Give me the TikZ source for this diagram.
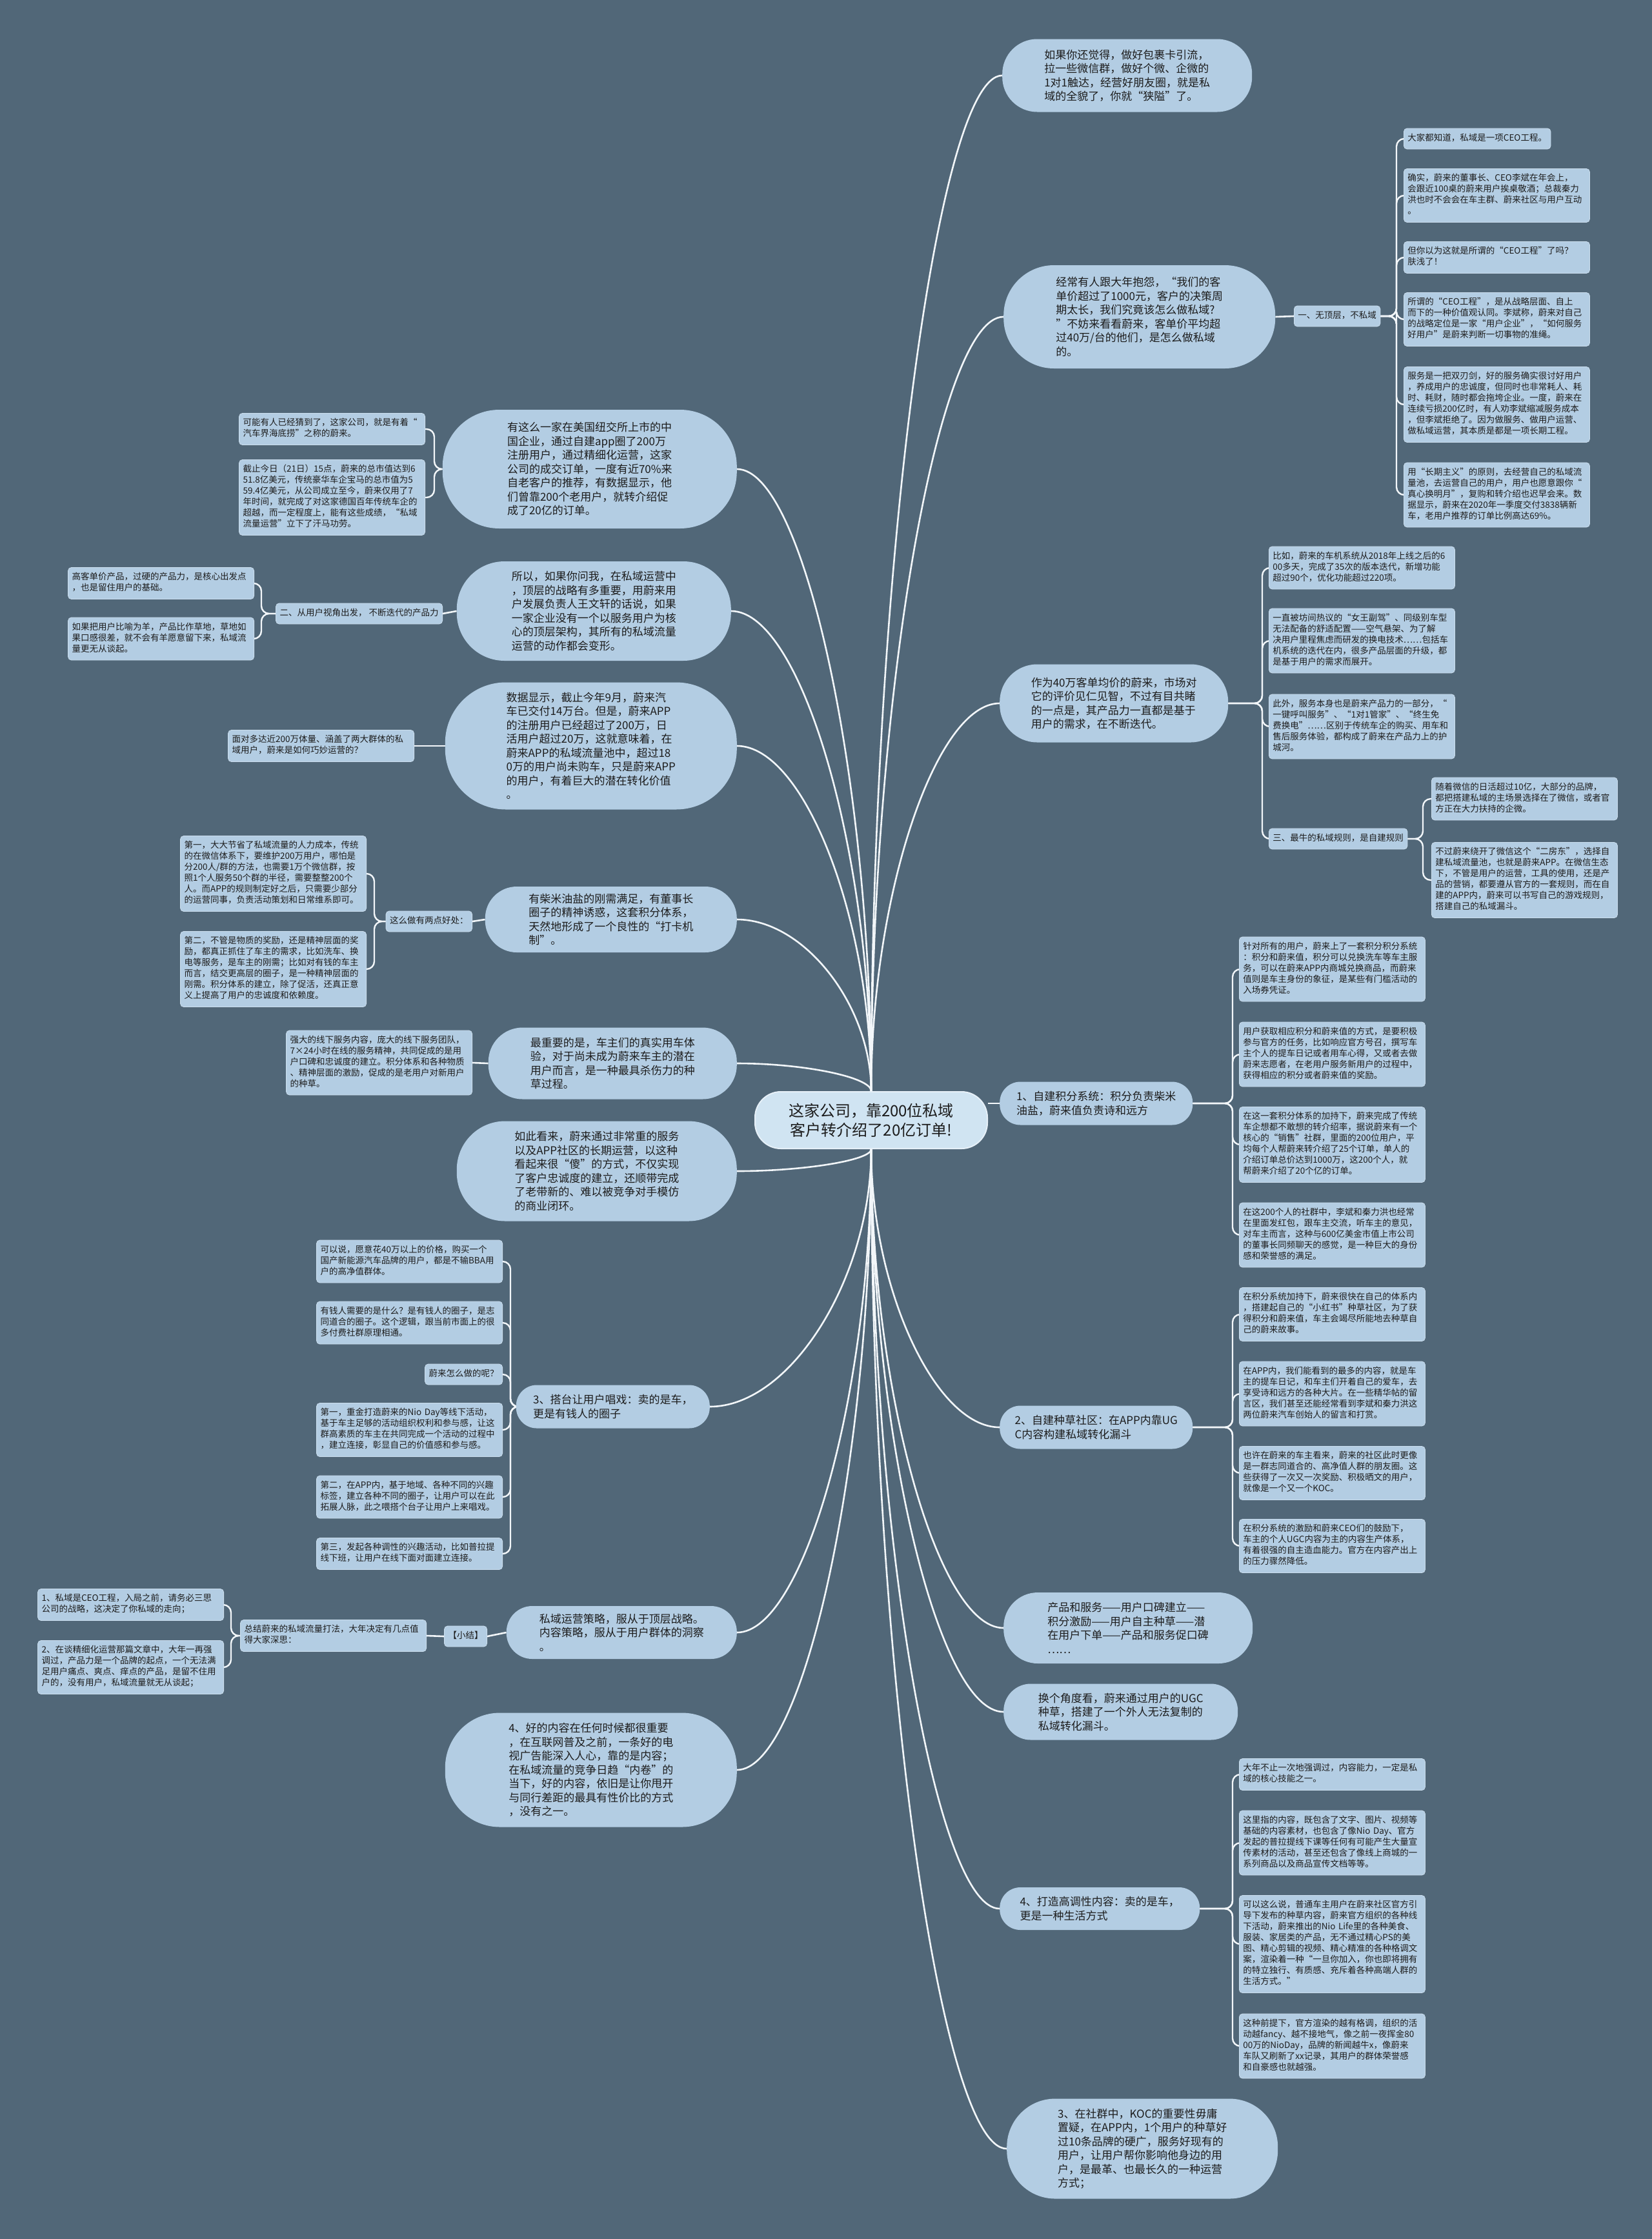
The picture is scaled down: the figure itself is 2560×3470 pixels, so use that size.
\documentclass[tikz,border=0pt]{standalone}
\usepackage{fontspec}
\setmainfont{Noto Sans CJK SC}
\usetikzlibrary{calc,backgrounds}
\definecolor{bgc}{HTML}{516778}
\definecolor{bubc}{HTML}{B3CDE3}
\definecolor{boxc}{HTML}{B3CDE3}
\definecolor{boxd}{HTML}{CADDED}
\definecolor{cenc}{HTML}{D0E4F2}
\definecolor{cend}{HTML}{E6F0F8}
\definecolor{linec}{HTML}{F2F6F9}
\definecolor{txt}{HTML}{1C1C1C}
\tikzset{
  conn/.style={draw=linec, line width=2.6bp},
  brk/.style={draw=linec, line width=2.4bp, rounded corners=12bp},
  bubble/.style={fill=bubc, text=txt, align=left, inner sep=0pt,
    font=\fontsize{17bp}{21.5bp}\selectfont},
  boxbase/.style={fill=boxc, draw=boxd, line width=0.8bp, rounded corners=5bp,
    text=txt, align=left, inner xsep=6bp, inner ysep=7.5bp,
    font=\fontsize{13.5bp}{17bp}\selectfont,
    execute at begin node=\strut, execute at end node=\strut},
  sbox/.style={boxbase, text width=276bp},
  tbox/.style={boxbase},
  centre/.style={fill=cenc, draw=cend, line width=2bp, rounded corners=40bp,
    minimum width=360bp, minimum height=88bp, align=center, text=txt,
    font=\fontsize{24bp}{30bp}\selectfont}
}
\newcommand\cur[2]{\draw[conn] (#1) .. controls ($(#1)!0.5!(#1|-#2)$) and ($(#2)!0.5!(#2-|#1)$) .. (#2);}
\begin{document}
\begin{tikzpicture}[x=1bp,y=-1bp]
\useasboundingbox (0,0) rectangle (2560,3470);

% centre
\node[centre] (C) at (1350,1736) {这家公司，靠200位私域\\客户转介绍了20亿订单!};

% ---------------- right bubbles
\node[bubble, anchor=west, minimum width=387bp, minimum height=113bp, rounded corners=54bp] (R1) at (1553,117)
 {如果你还觉得，做好包裹卡引流，\\拉一些微信群，做好个微、企微的\\1对1触达，经营好朋友圈，就是私\\域的全貌了，你就“狭隘”了。};
\node[bubble, anchor=west, minimum width=421bp, minimum height=160bp, rounded corners=78bp] (R2) at (1555,491)
 {经常有人跟大年抱怨，“我们的客\\单价超过了1000元，客户的决策周\\期太长，我们究竟该怎么做私域?\\”不妨来看看蔚来，客单价平均超\\过40万/台的他们，是怎么做私域\\的。};
\node[bubble, anchor=west, minimum width=354bp, minimum height=121bp, rounded corners=58bp] (R3) at (1549,1090)
 {作为40万客单均价的蔚来，市场对\\它的评价见仁见智，不过有目共睹\\的一点是，其产品力一直都是基于\\用户的需求，在不断迭代。};
\node[bubble, anchor=west, minimum width=299bp, minimum height=67bp, rounded corners=32bp] (R4) at (1549,1710)
 {1、自建积分系统：积分负责柴米\\油盐，蔚来值负责诗和远方};
\node[bubble, anchor=west, minimum width=299bp, minimum height=67bp, rounded corners=32bp] (R5) at (1549,2212)
 {2、自建种草社区：在APP内靠UG\\C内容构建私域转化漏斗};
\node[bubble, anchor=west, minimum width=386bp, minimum height=110bp, rounded corners=53bp] (R6) at (1555,2523)
 {产品和服务——用户口碑建立——\\积分激励——用户自主种草——潜\\在用户下单——产品和服务促口碑\\……};
\node[bubble, anchor=west, minimum width=363bp, minimum height=87bp, rounded corners=42bp] (R7) at (1555,2653)
 {换个角度看，蔚来通过用户的UGC\\种草，搭建了一个外人无法复制的\\私域转化漏斗。};
\node[bubble, anchor=west, minimum width=310bp, minimum height=66bp, rounded corners=32bp] (R8) at (1549,2958)
 {4、打造高调性内容：卖的是车，\\更是一种生活方式};
\node[bubble, anchor=west, minimum width=420bp, minimum height=155bp, rounded corners=75bp] (R9) at (1560,3330)
 {3、在社群中，KOC的重要性毋庸\\置疑，在APP内，1个用户的种草好\\过10条品牌的硬广，服务好现有的\\用户，让用户帮你影响他身边的用\\户，是最革、也最长久的一种运营\\方式；};

% ---------------- left bubbles
\node[bubble, anchor=east, minimum width=456bp, minimum height=184bp, rounded corners=88bp] (L1) at (1142,727)
 {有这么一家在美国纽交所上市的中\\国企业，通过自建app圈了200万\\注册用户，通过精细化运营，这家\\公司的成交订单，一度有近70\%来\\自老客户的推荐，有数据显示，他\\们曾靠200个老用户，就转介绍促\\成了20亿的订单。};
\node[bubble, anchor=east, minimum width=425bp, minimum height=154bp, rounded corners=74bp] (L2) at (1133,947)
 {所以，如果你问我，在私域运营中\\，顶层的战略有多重要，用蔚来用\\户发展负责人王文轩的话说，如果\\一家企业没有一个以服务用户为核\\心的顶层架构，其所有的私域流量\\运营的动作都会变形。};
\node[bubble, anchor=east, minimum width=452bp, minimum height=197bp, rounded corners=94bp] (L3) at (1142,1156)
 {数据显示，截止今年9月，蔚来汽\\车已交付14万台。但是，蔚来APP\\的注册用户已经超过了200万，日\\活用户超过20万，这就意味着，在\\蔚来APP的私域流量池中，超过18\\0万的用户尚未购车，只是蔚来APP\\的用户，有着巨大的潜在转化价值\\。};
\node[bubble, anchor=east, minimum width=390bp, minimum height=102bp, rounded corners=49bp] (L4) at (1142,1425)
 {有柴米油盐的刚需满足，有董事长\\圈子的精神诱惑，这套积分体系，\\天然地形成了一个良性的“打卡机\\制”。};
\node[bubble, anchor=east, minimum width=385bp, minimum height=111bp, rounded corners=53bp] (L5) at (1142,1648)
 {最重要的是，车主们的真实用车体\\验，对于尚未成为蔚来车主的潜在\\用户而言，是一种最具杀伤力的种\\草过程。};
\node[bubble, anchor=east, minimum width=434bp, minimum height=155bp, rounded corners=75bp] (L6) at (1142,1815)
 {如此看来，蔚来通过非常重的服务\\以及APP社区的长期运营，以这种\\看起来很“傻”的方式，不仅实现\\了客户忠诚度的建立，还顺带完成\\了老带新的、难以被竞争对手模仿\\的商业闭环。};
\node[bubble, anchor=east, minimum width=300bp, minimum height=67bp, rounded corners=32bp] (L7) at (1100,2180)
 {3、搭台让用户唱戏：卖的是车，\\更是有钱人的圈子};
\node[bubble, anchor=east, minimum width=357bp, minimum height=82bp, rounded corners=40bp] (L8) at (1142,2530)
 {私域运营策略，服从于顶层战略。\\内容策略，服从于用户群体的洞察\\。};
\node[bubble, anchor=east, minimum width=452bp, minimum height=177bp, rounded corners=85bp] (L9) at (1142,2743)
 {4、好的内容在任何时候都很重要\\，在互联网普及之前，一条好的电\\视广告能深入人心，靠的是内容；\\在私域流量的竞争日趋“内卷”的\\当下，好的内容，依旧是让你甩开\\与同行差距的最具有性价比的方式\\，没有之一。};

% ---------------- right small boxes
\node[tbox, anchor=west] (A) at (2005,490) {一、无顶层，不私域};
\node[tbox, anchor=west] (b1) at (2175,215) {大家都知道，私域是一项CEO工程。};
\node[sbox, anchor=west] (b2) at (2175,303) {确实，蔚来的董事长、CEO李斌在年会上，\\会跟近100桌的蔚来用户挨桌敬酒；总裁秦力\\洪也时不会会在车主群、蔚来社区与用户互动\\。};
\node[sbox, anchor=west] (b3) at (2175,399) {但你以为这就是所谓的“CEO工程”了吗？\\肤浅了！};
\node[sbox, anchor=west] (b4) at (2175,495) {所谓的“CEO工程”，是从战略层面、自上\\而下的一种价值观认同。李斌称，蔚来对自己\\的战略定位是一家“用户企业”，“如何服务\\好用户”是蔚来判断一切事物的准绳。};
\node[sbox, anchor=west] (b5) at (2175,627) {服务是一把双刃剑，好的服务确实很讨好用户\\，养成用户的忠诚度，但同时也非常耗人、耗\\时、耗财，随时都会拖垮企业。一度，蔚来在\\连续亏损200亿时，有人劝李斌缩减服务成本\\，但李斌拒绝了。因为做服务、做用户运营、\\做私域运营，其本质是都是一项长期工程。};
\node[sbox, anchor=west] (b6) at (2175,767) {用“长期主义”的原则，去经营自己的私域流\\量池，去运营自己的用户，用户也愿意跟你“\\真心换明月”，复购和转介绍也迟早会来。数\\据显示，蔚来在2020年一季度交付3838辆新\\车，老用户推荐的订单比例高达69\%。};

\node[sbox, anchor=west] (c1) at (1966,880) {比如，蔚来的车机系统从2018年上线之后的6\\00多天，完成了35次的版本迭代，新增功能\\超过90个，优化功能超过220项。};
\node[sbox, anchor=west] (c2) at (1966,993) {一直被坊间热议的“女王副驾”、同级别车型\\无法配备的舒适配置——空气悬架、为了解\\决用户里程焦虑而研发的换电技术……包括车\\机系统的迭代在内，很多产品层面的升级，都\\是基于用户的需求而展开。};
\node[sbox, anchor=west] (c3) at (1966,1126) {此外，服务本身也是蔚来产品力的一部分，“\\一键呼叫服务”、“1对1管家”、“终生免\\费换电”……区别于传统车企的购买、用车和\\售后服务体验，都构成了蔚来在产品力上的护\\城河。};
\node[tbox, anchor=west] (Cl) at (1966,1300) {三、最牛的私域规则，是自建规则};
\node[sbox, anchor=west] (d1) at (2218,1238) {随着微信的日活超过10亿，大部分的品牌，\\都把搭建私域的主场景选择在了微信，或者官\\方正在大力扶持的企微。};
\node[sbox, anchor=west] (d2) at (2218,1364) {不过蔚来绕开了微信这个“二房东”，选择自\\建私域流量池，也就是蔚来APP。在微信生态\\下，不管是用户的运营，工具的使用，还是产\\品的营销，都要遵从官方的一套规则，而在自\\建的APP内，蔚来可以书写自己的游戏规则，\\搭建自己的私域漏斗。};

\node[sbox, anchor=west] (e1) at (1920,1502) {针对所有的用户，蔚来上了一套积分积分系统\\：积分和蔚来值，积分可以兑换洗车等车主服\\务，可以在蔚来APP内商城兑换商品，而蔚来\\值则是车主身份的象征，是某些有门槛活动的\\入场券凭证。};
\node[sbox, anchor=west] (e2) at (1920,1634) {用户获取相应积分和蔚来值的方式，是要积极\\参与官方的任务，比如响应官方号召，撰写车\\主个人的提车日记或者用车心得，又或者去做\\蔚来志愿者，在老用户服务新用户的过程中，\\获得相应的积分或者蔚来值的奖励。};
\node[sbox, anchor=west] (e3) at (1920,1774) {在这一套积分体系的加持下，蔚来完成了传统\\车企想都不敢想的转介绍率，据说蔚来有一个\\核心的“销售”社群，里面的200位用户，平\\均每个人帮蔚来转介绍了25个订单，单人的\\介绍订单总价达到1000万，这200个人，就\\帮蔚来介绍了20个亿的订单。};
\node[sbox, anchor=west] (e4) at (1920,1914) {在这200个人的社群中，李斌和秦力洪也经常\\在里面发红包，跟车主交流，听车主的意见，\\对车主而言，这种与600亿美金市值上市公司\\的董事长同频聊天的感觉，是一种巨大的身份\\感和荣誉感的满足。};

\node[sbox, anchor=west] (f1) at (1920,2037) {在积分系统加持下，蔚来很快在自己的体系内\\，搭建起自己的“小红书”种草社区，为了获\\得积分和蔚来值，车主会竭尽所能地去种草自\\己的蔚来故事。};
\node[sbox, anchor=west] (f2) at (1920,2160) {在APP内，我们能看到的最多的内容，就是车\\主的提车日记，和车主们开着自己的爱车，去\\享受诗和远方的各种大片。在一些精华帖的留\\言区，我们甚至还能经常看到李斌和秦力洪这\\两位蔚来汽车创始人的留言和打赏。};
\node[sbox, anchor=west] (f3) at (1920,2283) {也许在蔚来的车主看来，蔚来的社区此时更像\\是一群志同道合的、高净值人群的朋友圈。这\\些获得了一次又一次奖励、积极晒文的用户，\\就像是一个又一个KOC。};
\node[sbox, anchor=west] (f4) at (1920,2396) {在积分系统的激励和蔚来CEO们的鼓励下，\\车主的个人UGC内容为主的内容生产体系，\\有着很强的自主造血能力。官方在内容产出上\\的压力骤然降低。};

\node[sbox, anchor=west] (g1) at (1920,2750) {大年不止一次地强调过，内容能力，一定是私\\域的核心技能之一。};
\node[sbox, anchor=west] (g2) at (1920,2856) {这里指的内容，既包含了文字、图片、视频等\\基础的内容素材，也包含了像Nio Day、官方\\发起的普拉提线下课等任何有可能产生大量宣\\传素材的活动，甚至还包含了像线上商城的一\\系列商品以及商品宣传文档等等。};
\node[sbox, anchor=west] (g3) at (1920,3013) {可以这么说，普通车主用户在蔚来社区官方引\\导下发布的种草内容，蔚来官方组织的各种线\\下活动，蔚来推出的Nio Life里的各种美食、\\服装、家居类的产品，无不通过精心PS的美\\图、精心剪辑的视频、精心精准的各种格调文\\案，渲染着一种“一旦你加入，你也即将拥有\\的特立独行、有质感、充斥着各种高端人群的\\生活方式。”};
\node[sbox, anchor=west] (g4) at (1920,3171) {这种前提下，官方渲染的越有格调，组织的活\\动越fancy、越不接地气，像之前一夜挥金80\\00万的NioDay，品牌的新闻越牛x，像蔚来\\车队又刷新了xx记录，其用户的群体荣誉感\\和自豪感也就越强。};

% ---------------- left small boxes
\node[sbox, anchor=east] (h1) at (659,665) {可能有人已经猜到了，这家公司，就是有着“\\汽车界海底捞”之称的蔚来。};
\node[sbox, anchor=east] (h2) at (659,771) {截止今日（21日）15点，蔚来的总市值达到6\\51.8亿美元，传统豪华车企宝马的总市值为5\\59.4亿美元，从公司成立至今，蔚来仅用了7\\年时间，就完成了对这家德国百年传统车企的\\超越，而一定程度上，能有这些成绩，“私域\\流量运营”立下了汗马功劳。};
\node[tbox, anchor=east] (B) at (686,951) {二、从用户视角出发， 不断迭代的产品力};
\node[sbox, anchor=east] (i1) at (394,904) {高客单价产品，过硬的产品力，是核心出发点\\，也是留住用户的基础。};
\node[sbox, anchor=east] (i2) at (394,990) {如果把用户比喻为羊，产品比作草地，草地如\\果口感很差，就不会有羊愿意留下来，私域流\\量更无从谈起。};
\node[sbox, anchor=east] (j1) at (642,1156) {面对多达近200万体量、涵盖了两大群体的私\\域用户，蔚来是如何巧妙运营的？};
\node[tbox, anchor=east] (D) at (732,1428) {这么做有两点好处：};
\node[sbox, anchor=east] (k1) at (568,1354) {第一，大大节省了私域流量的人力成本，传统\\的在微信体系下，要维护200万用户，哪怕是\\分200人/群的方法，也需要1万个微信群，按\\照1个人服务50个群的半径，需要整整200个\\人。而APP的规则制定好之后，只需要少部分\\的运营同事，负责活动策划和日常维系即可。};
\node[sbox, anchor=east] (k2) at (568,1502) {第二，不管是物质的奖励，还是精神层面的奖\\励，都真正抓住了车主的需求，比如洗车、换\\电等服务，是车主的刚需；比如对有钱的车主\\而言，结交更高层的圈子，是一种精神层面的\\刚需。积分体系的建立，除了促活，还真正意\\义上提高了用户的忠诚度和依赖度。};
\node[sbox, anchor=east] (l1) at (732,1647) {强大的线下服务内容，庞大的线下服务团队，\\7×24小时在线的服务精神，共同促成的是用\\户口碑和忠诚度的建立。积分体系和各种物质\\、精神层面的激励，促成的是老用户对新用户\\的种草。};
\node[sbox, anchor=east] (m1) at (779,1955) {可以说，愿意花40万以上的价格，购买一个\\国产新能源汽车品牌的用户，都是不输BBA用\\户的高净值群体。};
\node[sbox, anchor=east] (m2) at (779,2050) {有钱人需要的是什么？是有钱人的圈子，是志\\同道合的圈子。这个逻辑，跟当前市面上的很\\多付费社群原理相通。};
\node[tbox, anchor=east] (m3) at (779,2130) {蔚来怎么做的呢？};
\node[sbox, anchor=east] (m4) at (779,2216) {第一，重金打造蔚来的Nio Day等线下活动，\\基于车主足够的活动组织权利和参与感，让这\\群高素质的车主在共同完成一个活动的过程中\\，建立连接，彰显自己的价值感和参与感。};
\node[sbox, anchor=east] (m5) at (779,2320) {第二，在APP内，基于地域、各种不同的兴趣\\标签，建立各种不同的圈子，让用户可以在此\\拓展人脉，此之喂搭个台子让用户上来唱戏。};
\node[sbox, anchor=east] (m6) at (779,2408) {第三，发起各种调性的兴趣活动，比如普拉提\\线下班，让用户在线下面对面建立连接。};
\node[tbox, anchor=east] (E) at (755,2536) {【小结】};
\node[sbox, anchor=east] (N) at (661,2535) {总结蔚来的私域流量打法，大年决定有几点值\\得大家深思：};
\node[sbox, anchor=east] (o1) at (347,2487) {1、私域是CEO工程，入局之前，请务必三思\\公司的战略，这决定了你私域的走向；};
\node[sbox, anchor=east] (o2) at (347,2584) {2、在谈精细化运营那篇文章中，大年一再强\\调过，产品力是一个品牌的起点，一个无法满\\足用户痛点、爽点、痒点的产品，是留不住用\\户的，没有用户，私域流量就无从谈起；};

% bracket x positions
\coordinate (xA) at (2164,0);
\coordinate (xR3) at (1956,0);
\coordinate (xCl) at (2205,0);
\coordinate (xE) at (1910,0);
\coordinate (xL1) at (673,0);
\coordinate (xB) at (405,0);
\coordinate (xD) at (580,0);
\coordinate (xL7) at (791,0);
\coordinate (xN) at (358,0);

\begin{pgfonlayer}{background}
\fill[bgc] (0,0) rectangle (2560,3470);
% centre to bubbles
\cur{C.north}{R1.west}
\cur{C.north}{R2.west}
\cur{C.north}{R3.west}
\draw[conn] (C.east|-R4.west) -- (R4.west);
\cur{C.south}{R5.west}
\cur{C.south}{R6.west}
\cur{C.south}{R7.west}
\cur{C.south}{R8.west}
\cur{C.south}{R9.west}
\cur{C.north}{L1.east}
\cur{C.north}{L2.east}
\cur{C.north}{L3.east}
\cur{C.north}{L4.east}
\cur{C.north}{L5.east}
\cur{C.south}{L6.east}
\cur{C.south}{L7.east}
\cur{C.south}{L8.east}
\cur{C.south}{L9.east}
% right groups
\draw[conn] (R2.east) -- (A.west);
\foreach \t in {b1,b2,b3,b4,b5,b6} \draw[brk] (A.east) -- (A.east-|xA) |- (\t.west);
\foreach \t in {c1,c2,c3,Cl} \draw[brk] (R3.east) -- (R3.east-|xR3) |- (\t.west);
\foreach \t in {d1,d2} \draw[brk] (Cl.east) -- (Cl.east-|xCl) |- (\t.west);
\foreach \t in {e1,e2,e3,e4} \draw[brk] (R4.east) -- (R4.east-|xE) |- (\t.west);
\foreach \t in {f1,f2,f3,f4} \draw[brk] (R5.east) -- (R5.east-|xE) |- (\t.west);
\foreach \t in {g1,g2,g3,g4} \draw[brk] (R8.east) -- (R8.east-|xE) |- (\t.west);
% left groups
\foreach \t in {h1,h2} \draw[brk] (L1.west) -- (L1.west-|xL1) |- (\t.east);
\draw[conn] (L2.west) -- (B.east);
\foreach \t in {i1,i2} \draw[brk] (B.west) -- (B.west-|xB) |- (\t.east);
\draw[conn] (L3.west) -- (j1.east);
\draw[conn] (L4.west) -- (D.east);
\foreach \t in {k1,k2} \draw[brk] (D.west) -- (D.west-|xD) |- (\t.east);
\draw[conn] (L5.west) -- (l1.east);
\foreach \t in {m1,m2,m3,m4,m5,m6} \draw[brk] (L7.west) -- (L7.west-|xL7) |- (\t.east);
\draw[conn] (L8.west) -- (E.east);
\draw[conn] (E.west) -- (N.east);
\foreach \t in {o1,o2} \draw[brk] (N.west) -- (N.west-|xN) |- (\t.east);
\end{pgfonlayer}
\end{tikzpicture}
\end{document}
